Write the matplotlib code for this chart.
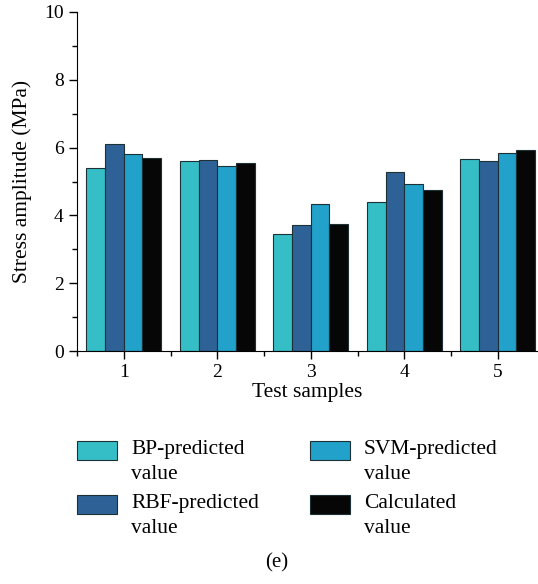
import matplotlib.pyplot as plt
import numpy as np
from matplotlib.patches import Rectangle
from matplotlib.ticker import MultipleLocator

plt.rcParams['font.family'] = ['Liberation Serif', 'DejaVu Serif']

# Data
samples = [1, 2, 3, 4, 5]
bp_pred = [5.41, 5.61, 3.45, 4.41, 5.66]
rbf_pred = [6.12, 5.62, 3.73, 5.28, 5.61]
svm_pred = [5.80, 5.45, 4.33, 4.94, 5.83]
calculated = [5.69, 5.55, 3.76, 4.76, 5.93]

series = [
    ('BP-predicted\nvalue', bp_pred, '#35bec6'),
    ('RBF-predicted\nvalue', rbf_pred, '#2e6296'),
    ('SVM-predicted\nvalue', svm_pred, '#22a1cb'),
    ('Calculated\nvalue', calculated, '#060606'),
]

W, H = 538, 584
fig = plt.figure(figsize=(W / 100, H / 100), dpi=100)
ax = fig.add_axes([77 / W, 1 - 351 / H, 461 / W, 339 / H])

x = np.array(samples)
w = 0.2
for i, (label, vals, color) in enumerate(series):
    ax.bar(x + (i - 1.5) * w, vals, width=w, color=color,
           edgecolor='#1c3036', linewidth=0.8, label=label)

ax.set_xlim(0.5, 5.43)
ax.set_ylim(0, 10)
ax.set_xticks(samples)
ax.xaxis.set_minor_locator(MultipleLocator(1, offset=0.5))
ax.yaxis.set_major_locator(MultipleLocator(2))
ax.yaxis.set_minor_locator(MultipleLocator(1))
ax.spines['top'].set_visible(False)
ax.spines['right'].set_visible(False)
ax.tick_params(which='both', direction='out', labelsize=14, width=1)
ax.tick_params(which='major', length=6)
ax.tick_params(which='minor', length=3.5)
ax.set_xlabel('Test samples', fontsize=15.5, labelpad=1)
ax.set_ylabel('Stress amplitude (MPa)', fontsize=15.5, labelpad=9)

# legend: 2 columns, handle aligned with first text line
col_x = [77, 310]
row_y = [441, 495]
for i, (label, vals, color) in enumerate(series):
    cx = col_x[i // 2]
    ry = row_y[i % 2]
    fig.add_artist(Rectangle((cx / W, 1 - (ry + 19) / H), 40 / W, 19 / H,
                             transform=fig.transFigure, facecolor=color,
                             edgecolor='#1c3036', linewidth=0.8))
    fig.text((cx + 54) / W, 1 - (ry - 1) / H, label, ha='left', va='top',
             fontsize=15.5, linespacing=1.45)

fig.text(277 / W, 1 - 563 / H, '(e)', ha='center', va='center', fontsize=15)

plt.savefig('out.png', dpi=100)
